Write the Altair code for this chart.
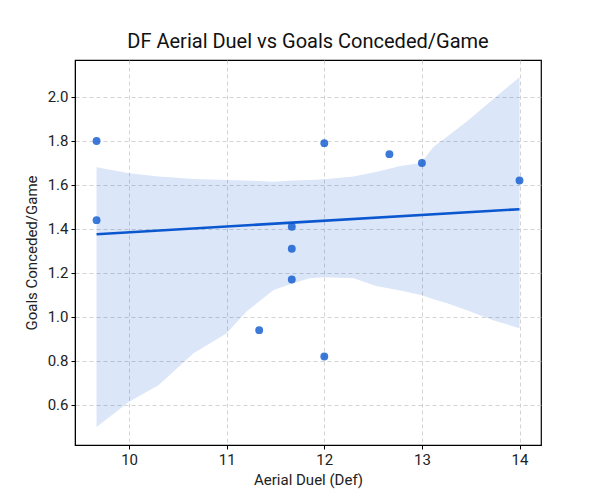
import altair as alt
import pandas as pd

# Scatter data
aerial = [9.667, 9.667, 11.667, 11.667, 11.667, 11.333, 12.0, 12.0, 12.667, 13.0, 14.0]
goals = [1.80, 1.44, 1.41, 1.31, 1.17, 0.94, 0.82, 1.79, 1.74, 1.70, 1.62]

# Confidence band
band_x = [9.667, 10.0, 10.3, 10.38, 10.66, 11.0, 11.2, 11.48, 11.68, 11.85, 12.0, 12.3,
          12.54, 12.78, 12.99, 13.12, 13.26, 13.46, 13.73, 14.0]
band_hi = [1.68, 1.653, 1.638, 1.636, 1.627, 1.623, 1.62, 1.615, 1.62, 1.623, 1.626, 1.638,
           1.66, 1.686, 1.70, 1.774, 1.82, 1.888, 1.99, 2.09]
band_lo = [0.50, 0.615, 0.69, 0.721, 0.835, 0.926, 1.024, 1.123, 1.153, 1.176, 1.18, 1.176,
           1.14, 1.12, 1.10, 1.08, 1.062, 1.03, 0.985, 0.949]

x_ticks = [10, 11, 12, 13, 14]
y_ticks = [0.6, 0.8, 1.0, 1.2, 1.4, 1.6, 1.8, 2.0]

BLUE = "#0b57d0"
FONT = "Roboto"

pts = pd.DataFrame({"x": aerial, "y": goals})
band = pd.DataFrame({"x": band_x, "lo": band_lo, "hi": band_hi})

xs = alt.Scale(domain=[9.446, 14.22], nice=False, zero=False)
ys = alt.Scale(domain=[0.418, 2.168], nice=False, zero=False)

xax = alt.Axis(values=x_ticks, format="d", title="Aerial Duel (Def)",
               grid=True, gridDash=[4, 3], gridColor="#c8c8c8", gridWidth=0.8,
               domainColor="black", tickColor="black", tickSize=4,
               labelFontSize=15, labelColor="#222", labelFont=FONT,
               titleFont=FONT, titleFontSize=15, titleFontWeight="normal",
               titleColor="#222", labelPadding=3, titlePadding=5)
yax = alt.Axis(values=y_ticks, format=".1f", title="Goals Conceded/Game",
               grid=True, gridDash=[4, 3], gridColor="#c8c8c8", gridWidth=0.8,
               domainColor="black", tickColor="black", tickSize=4,
               labelFontSize=15, labelColor="#222", labelFont=FONT,
               titleFont=FONT, titleFontSize=15, titleFontWeight="normal",
               titleColor="#222", labelPadding=3, titlePadding=8)

area = alt.Chart(band).mark_area(color=BLUE, opacity=0.15).encode(
    x=alt.X("x:Q", scale=xs, axis=xax),
    y=alt.Y("lo:Q", scale=ys, axis=yax),
    y2="hi:Q",
)

scatter = alt.Chart(pts).mark_circle(color=BLUE, opacity=0.8, size=62).encode(
    x=alt.X("x:Q", scale=xs),
    y=alt.Y("y:Q", scale=ys),
)

line = alt.Chart(pts).transform_regression("x", "y").mark_line(
    color=BLUE, strokeWidth=2.6
).encode(
    x=alt.X("x:Q", scale=xs),
    y=alt.Y("y:Q", scale=ys),
)

chart = alt.layer(area, scatter, line).properties(
    width=466,
    height=385,
    title=alt.TitleParams("DF Aerial Duel vs Goals Conceded/Game", font=FONT,
                          fontSize=20, fontWeight="normal", color="#111",
                          anchor="middle", offset=8),
    autosize=alt.AutoSizeParams(type="none"),
    padding={"left": 67, "top": 52, "right": 51, "bottom": 47},
).configure_view(stroke="black", strokeWidth=1.2)

chart.save("out.html", embed_options={"renderer": "svg", "actions": False})
